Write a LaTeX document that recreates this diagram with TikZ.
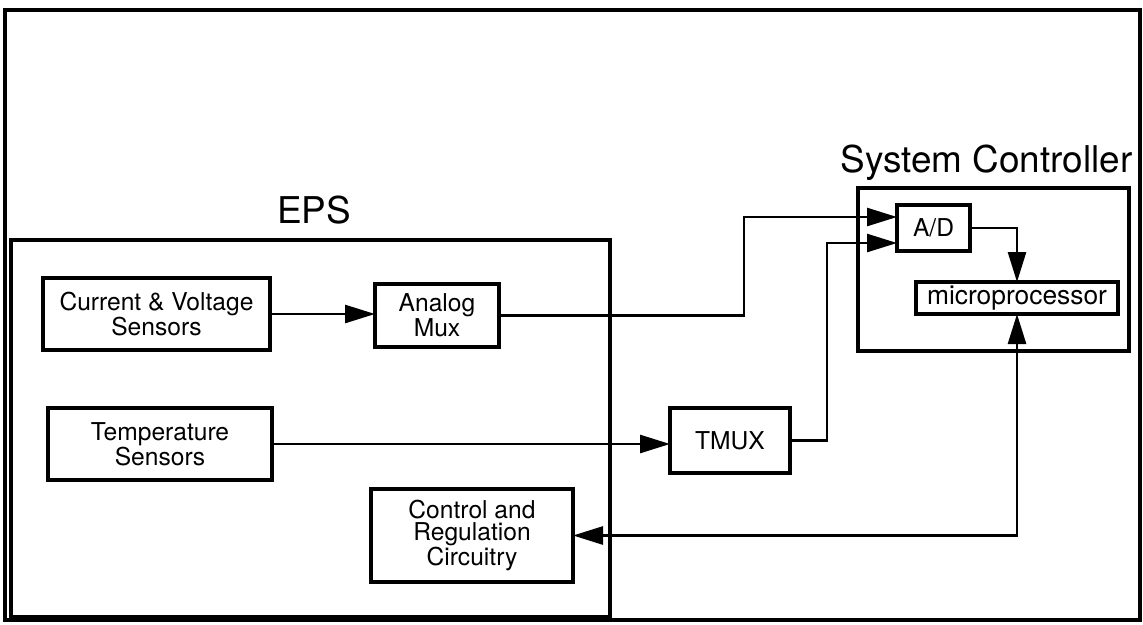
\documentclass[tikz,border=0pt]{standalone}
\usepackage{fontspec}
\setmainfont{TeX Gyre Heros}
\usetikzlibrary{
    arrows.meta,
    positioning
}
\tikzset{
  block/.style  = {draw, line width=1.8pt, inner sep=0pt, outer sep=0pt,
                   align=center, font=\fontsize{14}{12.5}\selectfont},
  frame/.style  = {draw, line width=1.8pt, inner sep=0pt, outer sep=0pt},
  title/.style  = {inner sep=0pt, font=\fontsize{21}{21}\selectfont},
  arr/.style    = {-{Triangle[length=6mm, width=3.6mm]}, line width=1.5pt},
  darr/.style   = {{Triangle[length=6mm, width=3.6mm]}-{Triangle[length=6mm, width=3.6mm]},
                   line width=1.5pt}
}

\begin{document}
\begin{tikzpicture}[x=0.2mm, y=-0.2mm]
\useasboundingbox (0,0) rectangle (1143,624);
\draw[line width=1.8pt] (5,10) rectangle (1140,620);

\node[frame, minimum width=119.8mm, minimum height=75.4mm] (eps) at (310.5,428.5) {};
\node[title, above=3mm of eps, xshift=0.7mm] (epstitle) {EPS};
\node[frame, minimum width=54.2mm, minimum height=32.6mm] (sc) at (993.5,269.5) {};
\node[title, above=1.5mm of sc, xshift=-1.4mm] (sctitle) {System Controller};

\node[block, minimum width=45.4mm, minimum height=14.4mm] (cv) at (156.5,314)
    {Current \& Voltage\\Sensors};
\node[block, minimum width=24.8mm, minimum height=12.6mm] (mux) at (437,315.5)
    {Analog\\Mux};
\node[block, minimum width=44.8mm, minimum height=14.4mm] (temp) at (160,444)
    {Temperature\\Sensors};
\node[block, minimum width=40.4mm, minimum height=18.6mm] (ctrl) at (472,535.5)
    {Control and\\Regulation\\Circuitry};
\node[block, minimum width=24mm, minimum height=13mm] (tmux) at (730,440.5) {TMUX};
\node[block, minimum width=14.6mm, minimum height=9.2mm] (ad) at (933.5,228) {A/D};
\node[block, minimum width=40.4mm, minimum height=6.4mm,
      font=\fontsize{15}{15}\selectfont] (micro) at (1017,298) {microprocessor};

\coordinate (adin1) at ([yshift=2.2mm]ad.west);
\coordinate (adin2) at ([yshift=-3mm]ad.west);
\coordinate (bend1) at (744,0);
\coordinate (bend2) at (827,0);

\draw[arr] (cv.east) -- (cv.east -| mux.west);
\draw[arr] (temp.east) -- (temp.east -| tmux.west);
\draw[arr] (mux.east) -| (bend1 |- adin1) -- (adin1);
\draw[arr] (tmux.east) -| (bend2 |- adin2) -- (adin2);
\draw[arr] (ad.east) -| (micro.north);
\draw[darr] (ctrl.east) -| (micro.south);
\end{tikzpicture}
\end{document}
